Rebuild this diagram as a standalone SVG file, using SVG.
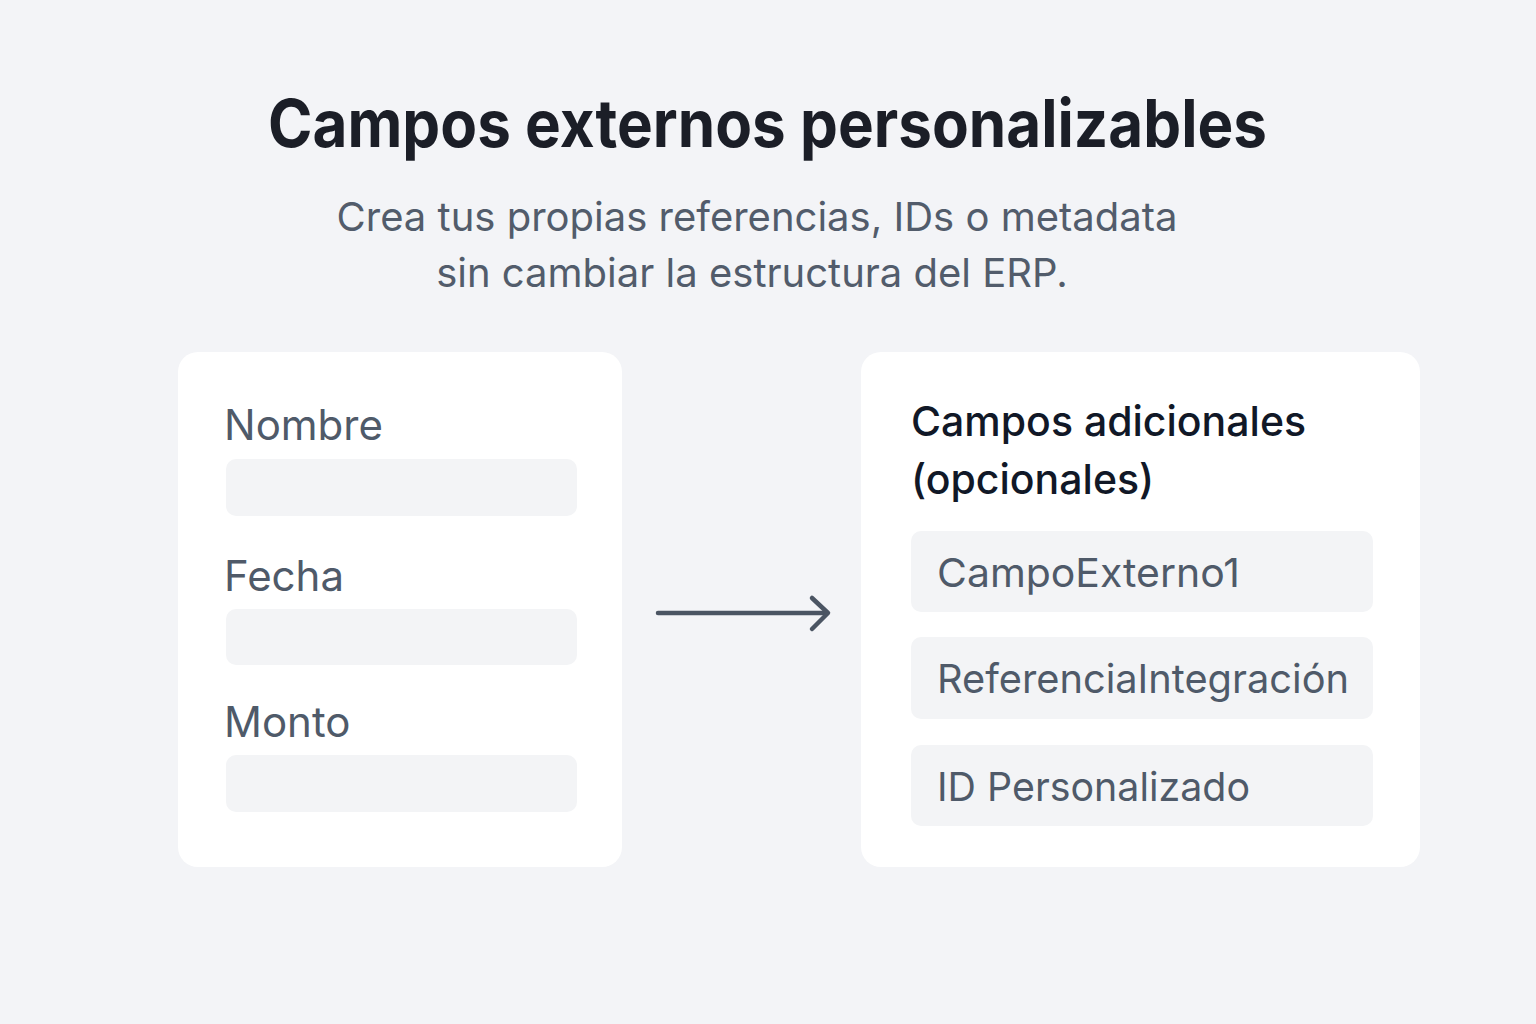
<svg xmlns="http://www.w3.org/2000/svg" width="1536" height="1024" viewBox="0 0 1536 1024">
  <defs>
    <style>
      .bg { fill: #f3f4f7; }
      .card { fill: #ffffff; }
      .field { fill: #f3f4f6; }
      .title { font-family: Inter, "Noto Sans", "Liberation Sans", sans-serif; font-weight: 700; font-size: 66px; fill: #1b1e27; }
      .sub { font-family: Inter, "Noto Sans", "Liberation Sans", sans-serif; font-weight: 400; font-size: 40px; fill: #525c6b; }
      .label { font-family: Inter, "Noto Sans", "Liberation Sans", sans-serif; font-weight: 400; font-size: 42px; fill: #4f5a69; }
      .head { font-family: Inter, "Noto Sans", "Liberation Sans", sans-serif; font-weight: 500; font-size: 41px; fill: #111827; }
      .val { font-family: Inter, "Noto Sans", "Liberation Sans", sans-serif; font-weight: 400; font-size: 40px; fill: #4f5a69; }
      .conn { stroke: #4b5563; stroke-width: 4.5; fill: none; stroke-linecap: round; stroke-linejoin: round; }
    </style>
  </defs>
  <rect class="bg" x="0" y="0" width="1536" height="1024"/>
  <g id="header">
    <text class="title" x="268" y="147" textLength="999" lengthAdjust="spacingAndGlyphs">Campos externos personalizables</text>
    <text class="sub" x="757" y="231" text-anchor="middle">Crea tus propias referencias, IDs o metadata</text>
    <text class="sub" x="752" y="287" text-anchor="middle">sin cambiar la estructura del ERP.</text>
  </g>
  <g id="erp-form">
    <rect class="card" x="178" y="352" width="444" height="515" rx="20"/>
    <text class="label" x="224" y="440">Nombre</text>
    <rect class="field" x="226" y="459" width="351" height="57" rx="10"/>
    <text class="label" x="224" y="591">Fecha</text>
    <rect class="field" x="226" y="609" width="351" height="56" rx="10"/>
    <text class="label" x="224" y="737">Monto</text>
    <rect class="field" x="226" y="755" width="351" height="57" rx="10"/>
  </g>
  <g id="connectors">
    <line class="conn" x1="658" y1="613" x2="827" y2="613"/>
    <polyline class="conn" points="812,598 828,613 812,629"/>
  </g>
  <g id="extra-fields">
    <rect class="card" x="861" y="352" width="559" height="515" rx="20"/>
    <text class="head" x="911" y="436">Campos adicionales</text>
    <text class="head" x="911" y="494">(opcionales)</text>
    <g id="field-1">
      <rect class="field" x="911" y="531" width="462" height="81" rx="10"/>
      <text class="val" x="937" y="587" textLength="303" lengthAdjust="spacingAndGlyphs">CampoExterno1</text>
    </g>
    <g id="field-2">
      <rect class="field" x="911" y="637" width="462" height="82" rx="10"/>
      <text class="val" x="937" y="693" textLength="412" lengthAdjust="spacingAndGlyphs">ReferenciaIntegración</text>
    </g>
    <g id="field-3">
      <rect class="field" x="911" y="745" width="462" height="81" rx="10"/>
      <text class="val" x="937" y="801" textLength="313" lengthAdjust="spacingAndGlyphs">ID Personalizado</text>
    </g>
  </g>
</svg>
